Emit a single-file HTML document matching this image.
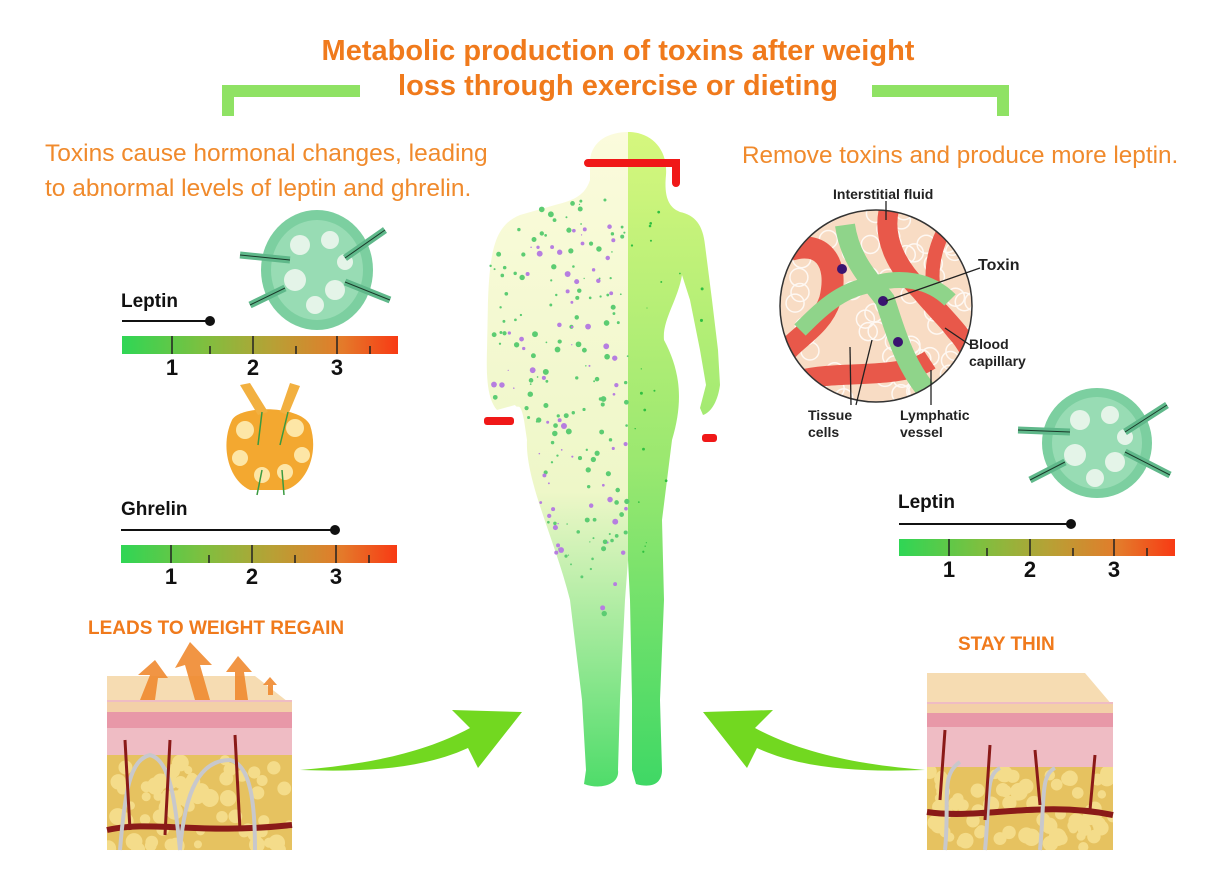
<!DOCTYPE html>
<html><head><meta charset="utf-8"><style>
html,body{margin:0;padding:0;background:#fff;}
svg{display:block;font-family:"Liberation Sans",sans-serif;}
</style></head><body>
<svg id="s" width="1219" height="889" viewBox="0 0 1219 889" xmlns="http://www.w3.org/2000/svg">
<defs>
<linearGradient id="bar" x1="0" x2="1"><stop offset="0" stop-color="#2fd655"/><stop offset="0.3" stop-color="#7fbf3f"/><stop offset="0.55" stop-color="#b8a035"/><stop offset="0.8" stop-color="#e47a2a"/><stop offset="1" stop-color="#f83a14"/></linearGradient>
<linearGradient id="bl" x1="0" y1="0" x2="0" y2="1"><stop offset="0" stop-color="#fbfbdc"/><stop offset="0.55" stop-color="#eef7c8"/><stop offset="1" stop-color="#4fdc6a"/></linearGradient>
<linearGradient id="br" x1="0" y1="0" x2="0" y2="1"><stop offset="0" stop-color="#d6f77e"/><stop offset="0.5" stop-color="#9be870"/><stop offset="1" stop-color="#3fd865"/></linearGradient>
<clipPath id="cl"><rect x="0" y="0" width="628" height="889"/></clipPath>
<clipPath id="cr"><rect x="628" y="0" width="600" height="889"/></clipPath>
<clipPath id="circ"><circle cx="876" cy="306" r="96"/></clipPath>
<clipPath id="fc1"><rect x="107" y="755" width="185" height="95"/></clipPath>
<clipPath id="fc2"><rect x="927" y="767" width="186" height="83"/></clipPath>
<path id="body" d="M628,132 C650,132 668,148 666,175 C664,195 668,205 676,210 L680,212 C695,215 703,225 705,245 L712,300 L718,350 L720,385 C718,400 712,412 703,415 L700,408 L706,385 L700,350 L690,300 L682,275 C678,300 662,320 664,340 C680,370 684,400 672,440 L662,520 L664,600 L660,700 L662,770 C662,785 650,788 636,784 L632,770 L632,700 L630,600 L628,560 L625,600 L620,700 L618,770 C620,785 600,790 584,784 L586,770 L582,700 L570,600 C555,540 525,480 527,440 L524,420 C520,400 518,410 515,405 L497,410 C488,400 486,380 487,350 L488,300 C490,250 495,225 520,215 L555,205 C575,200 585,195 590,180 L590,160 C592,140 610,132 628,132 Z"/>
</defs>

<text x="618" y="60" text-anchor="middle" font-size="29" font-weight="bold" fill="#f07a1c">Metabolic production of toxins after weight</text>
<text x="618" y="95" text-anchor="middle" font-size="29" font-weight="bold" fill="#f07a1c">loss through exercise or dieting</text>
<path d="M228,116 V91 H360" fill="none" stroke="#8fe264" stroke-width="12"/>
<path d="M872,91 H1003 V116" fill="none" stroke="#8fe264" stroke-width="12"/>

<text x="45" y="161" font-size="24.5" fill="#f08a2c">Toxins cause hormonal changes, leading</text>
<text x="45" y="196" font-size="24.5" fill="#f08a2c">to abnormal levels of leptin and ghrelin.</text>
<text x="742" y="163" font-size="24.3" fill="#f08a2c">Remove toxins and produce more leptin.</text>

<use href="#body" fill="url(#bl)" clip-path="url(#cl)"/>
<use href="#body" fill="url(#br)" clip-path="url(#cr)"/>
<g id="dots"></g>
<path d="M588,163 H676 V183" fill="none" stroke="#f01818" stroke-width="8" stroke-linecap="round"/>
<rect x="484" y="417" width="30" height="8" rx="3" fill="#f01818"/>
<rect x="702" y="434" width="15" height="8" rx="3" fill="#f01818"/>

<g>
<ellipse cx="317" cy="270" rx="56" ry="60" fill="#7ccfa0"/>
<ellipse cx="317" cy="270" rx="46" ry="50" fill="#98dcb4"/>
<g fill="#e4f4e8"><circle cx="300" cy="245" r="10"/><circle cx="330" cy="240" r="9"/><circle cx="295" cy="280" r="11"/><circle cx="335" cy="290" r="10"/><circle cx="345" cy="262" r="8"/><circle cx="315" cy="305" r="9"/></g>
<path d="M240,255 L290,260 M250,305 L285,288 M345,258 L385,230 M345,282 L390,300" stroke="#5fb88a" stroke-width="7"/>
<path d="M240,255 L290,260 M250,305 L285,288 M345,258 L385,230 M345,282 L390,300" stroke="#1a3a2a" stroke-width="1"/>
</g>
<text x="121" y="307" font-size="19" font-weight="bold" fill="#111">Leptin</text>
<line x1="122" y1="321" x2="210" y2="321" stroke="#111" stroke-width="2"/><circle cx="210" cy="321" r="5" fill="#111"/>
<rect x="122" y="336" width="276" height="18" fill="url(#bar)"/>
<g stroke="#222" stroke-width="1.5"><line x1="172" y1="336" x2="172" y2="354"/><line x1="253" y1="336" x2="253" y2="354"/><line x1="337" y1="336" x2="337" y2="354"/><line x1="210" y1="346" x2="210" y2="354"/><line x1="296" y1="346" x2="296" y2="354"/><line x1="370" y1="346" x2="370" y2="354"/></g>
<g font-size="22" font-weight="bold" fill="#111" text-anchor="middle"><text x="172" y="375">1</text><text x="253" y="375">2</text><text x="337" y="375">3</text></g>

<g>
<path d="M232,420 C240,405 300,405 310,425 C320,455 305,485 285,490 L250,490 C228,480 220,445 232,420 Z" fill="#f3a830"/>
<path d="M258,415 L240,385 L250,383 L268,412 Z M280,412 L290,383 L300,386 L288,415 Z" fill="#f2b040"/>
<g fill="#fde6a6"><circle cx="245" cy="430" r="9"/><circle cx="295" cy="428" r="9"/><circle cx="240" cy="458" r="8"/><circle cx="302" cy="455" r="8"/><circle cx="262" cy="475" r="8"/><circle cx="285" cy="472" r="8"/></g>
<path d="M258,445 L262,412 M280,445 L288,412 M257,495 L262,470 M284,495 L282,470" stroke="#3a9a40" stroke-width="1.5"/>
</g>
<text x="121" y="515" font-size="19" font-weight="bold" fill="#111">Ghrelin</text>
<line x1="121" y1="530" x2="335" y2="530" stroke="#111" stroke-width="2"/><circle cx="335" cy="530" r="5" fill="#111"/>
<rect x="121" y="545" width="276" height="18" fill="url(#bar)"/>
<g stroke="#222" stroke-width="1.5"><line x1="171" y1="545" x2="171" y2="563"/><line x1="252" y1="545" x2="252" y2="563"/><line x1="336" y1="545" x2="336" y2="563"/><line x1="209" y1="555" x2="209" y2="563"/><line x1="295" y1="555" x2="295" y2="563"/><line x1="369" y1="555" x2="369" y2="563"/></g>
<g font-size="22" font-weight="bold" fill="#111" text-anchor="middle"><text x="171" y="584">1</text><text x="252" y="584">2</text><text x="336" y="584">3</text></g>

<g clip-path="url(#circ)">
<rect x="770" y="200" width="220" height="220" fill="#f8dcc4"/>
<g fill="none" stroke="#fff" stroke-width="1.5" opacity="0.8" id="cells"></g>
<path d="M790,250 C820,240 840,260 830,300 C820,330 790,340 780,360" stroke="#e8584a" stroke-width="22" fill="none"/>
<path d="M890,205 C880,240 900,270 920,290 C945,320 960,330 975,360" stroke="#e8584a" stroke-width="20" fill="none"/>
<path d="M800,380 C840,370 900,380 930,360" stroke="#e8584a" stroke-width="20" fill="none"/>
<path d="M950,220 C930,250 920,300 960,340" stroke="#e8584a" stroke-width="14" fill="none"/>
<path d="M845,225 C850,260 870,280 885,300 C895,330 905,370 935,400" stroke="#8fd48a" stroke-width="20" fill="none"/>
<path d="M800,330 C820,310 840,290 870,285 C900,275 930,280 950,300" stroke="#8fd48a" stroke-width="16" fill="none"/>
</g>
<circle cx="876" cy="306" r="96" fill="none" stroke="#333" stroke-width="1.5"/>
<g fill="#3a1470"><circle cx="842" cy="269" r="5"/><circle cx="883" cy="301" r="5"/><circle cx="898" cy="342" r="5"/></g>
<g stroke="#222" stroke-width="1.3" fill="none"><line x1="886" y1="201" x2="886" y2="220"/><line x1="886" y1="301" x2="980" y2="268"/><line x1="945" y1="328" x2="970" y2="345"/><line x1="850" y1="347" x2="851" y2="405"/><line x1="872" y1="340" x2="856" y2="405"/><line x1="931" y1="370" x2="931" y2="405"/></g>
<g font-size="14" font-weight="bold" fill="#222">
<text x="833" y="199">Interstitial fluid</text>
<text x="978" y="270" font-size="16">Toxin</text>
<text x="969" y="349">Blood</text><text x="969" y="366">capillary</text>
<text x="808" y="420">Tissue</text><text x="808" y="437">cells</text>
<text x="900" y="420">Lymphatic</text><text x="900" y="437">vessel</text>
</g>

<g>
<ellipse cx="1097" cy="443" rx="55" ry="55" fill="#7ccfa0"/>
<ellipse cx="1097" cy="443" rx="45" ry="46" fill="#98dcb4"/>
<g fill="#e4f4e8"><circle cx="1080" cy="420" r="10"/><circle cx="1110" cy="415" r="9"/><circle cx="1075" cy="455" r="11"/><circle cx="1115" cy="462" r="10"/><circle cx="1125" cy="437" r="8"/><circle cx="1095" cy="478" r="9"/></g>
<path d="M1018,430 L1070,432 M1030,480 L1065,462 M1125,432 L1167,405 M1125,452 L1170,475" stroke="#5fb88a" stroke-width="7"/>
<path d="M1018,430 L1070,432 M1030,480 L1065,462 M1125,432 L1167,405 M1125,452 L1170,475" stroke="#1a3a2a" stroke-width="1"/>
</g>
<text x="898" y="508" font-size="19" font-weight="bold" fill="#111">Leptin</text>
<line x1="899" y1="524" x2="1071" y2="524" stroke="#111" stroke-width="2"/><circle cx="1071" cy="524" r="5" fill="#111"/>
<rect x="899" y="539" width="276" height="17" fill="url(#bar)"/>
<g stroke="#222" stroke-width="1.5"><line x1="949" y1="539" x2="949" y2="556"/><line x1="1030" y1="539" x2="1030" y2="556"/><line x1="1114" y1="539" x2="1114" y2="556"/><line x1="987" y1="548" x2="987" y2="556"/><line x1="1073" y1="548" x2="1073" y2="556"/><line x1="1147" y1="548" x2="1147" y2="556"/></g>
<g font-size="22" font-weight="bold" fill="#111" text-anchor="middle"><text x="949" y="577">1</text><text x="1030" y="577">2</text><text x="1114" y="577">3</text></g>

<text x="88" y="634" font-size="19" font-weight="bold" fill="#f07a1c">LEADS TO WEIGHT REGAIN</text>
<text x="958" y="650" font-size="19" font-weight="bold" fill="#f07a1c">STAY THIN</text>

<g>
<polygon points="107,676 255,676 292,705 107,702" fill="#f6dcb2"/>
<rect x="107" y="700" width="185" height="150" fill="#efbcc4"/>
<rect x="107" y="702" width="185" height="10" fill="#f3d0a8"/>
<rect x="107" y="712" width="185" height="16" fill="#e898a8"/>
<rect x="107" y="755" width="185" height="95" fill="#e6c260"/>
<g fill="#f4dc8a" class="fat" clip-path="url(#fc1)"></g>
<path d="M107,830 C150,820 200,835 292,825" stroke="#8a1a18" stroke-width="6" fill="none"/>
<path d="M120,850 C125,790 130,760 150,755 C170,760 175,800 180,850 M180,850 C185,790 200,760 230,760 C250,765 255,800 255,850" stroke="#c8c8cc" stroke-width="4" fill="none"/>
<path d="M165,835 L170,740 M240,830 L235,735 M130,830 L125,740" stroke="#8a1a18" stroke-width="3" fill="none"/>
</g>
<g fill="#f08a30" opacity="0.9">
<path d="M140,700 L150,675 L138,675 L155,660 L168,678 L158,678 L155,700 Z"/>
<path d="M195,700 L185,665 L175,668 L190,642 L212,665 L200,665 L210,700 Z"/>
<path d="M235,700 L235,672 L226,672 L238,656 L252,672 L244,672 L248,700 Z"/>
<path d="M268,695 L268,685 L263,685 L270,677 L277,685 L273,685 L273,695 Z"/>
</g>

<g>
<polygon points="927,673 1085,673 1113,706 927,702" fill="#f6dcb2"/>
<rect x="927" y="702" width="186" height="148" fill="#efbcc4"/>
<rect x="927" y="704" width="186" height="9" fill="#f3d0a8"/>
<rect x="927" y="713" width="186" height="14" fill="#e898a8"/>
<rect x="927" y="767" width="186" height="83" fill="#e6c260"/>
<g fill="#f4dc8a" class="fat2" clip-path="url(#fc2)"></g>
<path d="M927,812 C980,820 1040,800 1113,815" stroke="#8a1a18" stroke-width="6" fill="none"/>
<path d="M985,850 C990,800 985,775 1000,768 M1040,850 C1045,800 1040,775 1055,768 M945,850 C950,800 940,775 960,762" stroke="#c8c8cc" stroke-width="4" fill="none"/>
<path d="M985,820 L990,745 M1040,805 L1035,750 M1090,810 L1095,755 M940,800 L945,730" stroke="#8a1a18" stroke-width="3" fill="none"/>
</g>

<path d="M300,770 C360,765 420,755 470,728 L452,710 L522,712 L478,768 L468,748 C420,770 360,772 300,770 Z" fill="#72d820"/>
<path d="M925,770 C865,765 805,755 755,728 L773,710 L703,712 L747,768 L757,748 C805,770 865,772 925,770 Z" fill="#72d820"/>
</svg>
<script>
(function(){
var NS="http://www.w3.org/2000/svg";var s=12345;function r(){s=(s*16807)%2147483647;return s/2147483647;}
var body=document.getElementById('body');var svg=document.getElementById('s');var g=document.getElementById('dots');
var pt=svg.createSVGPoint();
for(var i=0;i<700;i++){var x=490+r()*230,y=200+r()*480;pt.x=x;pt.y=y;
 if(!body.isPointInFill(pt))continue;
 var left=x<628;
 if(!left&&r()<0.75)continue;
 if(y>560&&r()<0.8)continue;
 if(left&&r()<0.3)continue;
 var c=document.createElementNS(NS,'circle');c.setAttribute('cx',x);c.setAttribute('cy',y);
 c.setAttribute('r',left?(0.6+r()*2.4):(0.5+r()*1.1));
 c.setAttribute('fill',left&&r()<0.35?'#b67ee0':(left?'#5ccc72':'#2fc040'));g.appendChild(c);}
function fat(cls,x0,y0,w,h){var gg=document.querySelector('.'+cls);for(var i=0;i<70;i++){var c=document.createElementNS(NS,'circle');c.setAttribute('cx',x0+r()*w);c.setAttribute('cy',y0+r()*h);c.setAttribute('r',4+r()*5);gg.appendChild(c);}}
fat('fat',107,760,185,90);fat('fat2',927,770,186,80);
var cg=document.getElementById('cells');for(var i=0;i<80;i++){var c=document.createElementNS(NS,'circle');c.setAttribute('cx',780+r()*195);c.setAttribute('cy',210+r()*195);c.setAttribute('r',9);cg.appendChild(c);}
})();
</script>
</body></html>
